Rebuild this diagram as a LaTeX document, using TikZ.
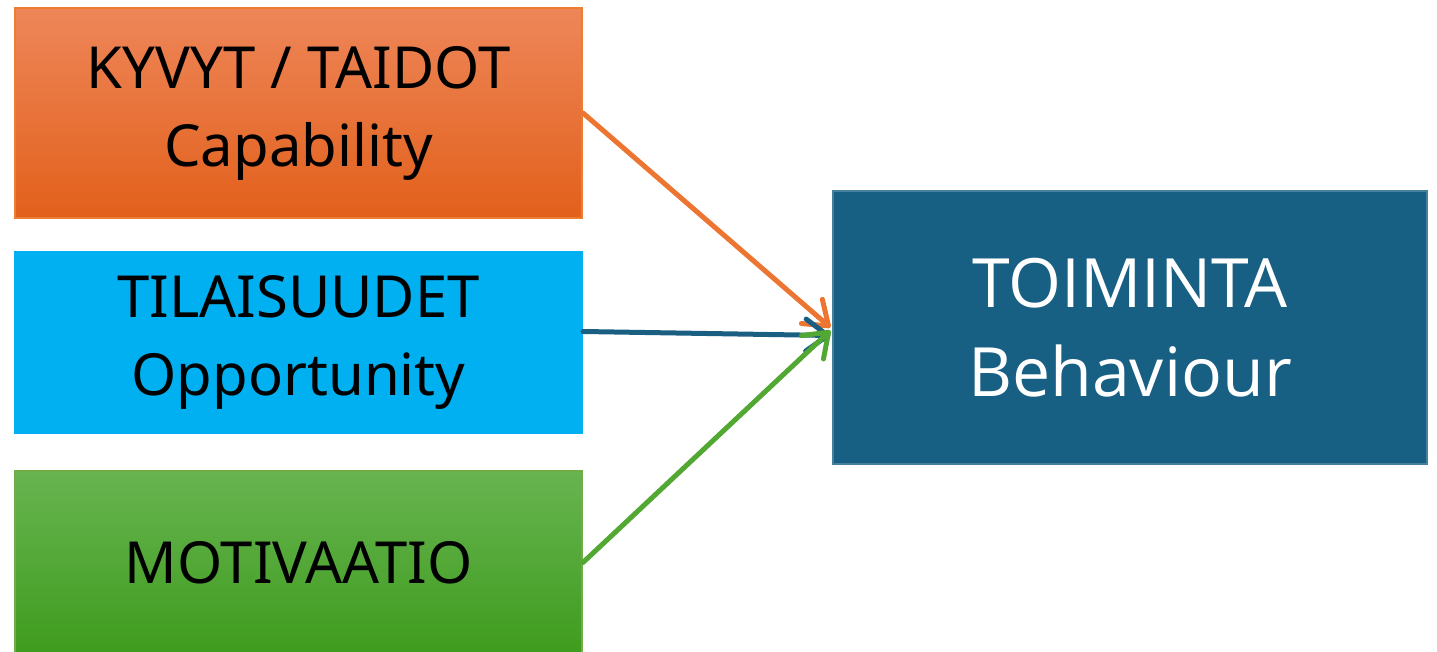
\documentclass[tikz,border=0pt]{standalone}
\usepackage{fontspec}
\setmainfont{Noto Sans}
\newfontfamily\boxfont{Open Sans}
\usetikzlibrary{arrows.meta,calc}
\definecolor{capTop}{HTML}{EE8659}
\definecolor{capBot}{HTML}{E2601B}
\definecolor{capEdge}{HTML}{ED7D31}
\definecolor{oppFill}{HTML}{00B0F0}
\definecolor{motTop}{HTML}{67B450}
\definecolor{motBot}{HTML}{3F9C1E}
\definecolor{motEdge}{HTML}{70AD47}
\definecolor{behFill}{HTML}{176083}
\definecolor{capArrow}{HTML}{EC7532}
\definecolor{oppArrow}{HTML}{1A5E82}
\definecolor{motArrow}{HTML}{52A832}
\tikzset{
  srcbox/.style={draw, line width=1pt, minimum width=283.5pt, minimum height=#1,
    inner sep=0pt, align=center, text=black,
    font=\fontsize{29}{39}\selectfont},
  link/.style={line width=2.5pt, line cap=round,
    -{Straight Barb[length=11pt,width=16pt,line width=2.5pt,round]}}
}
\begin{document}
\begin{tikzpicture}[x=0.5pt,y=-0.5pt]
  \useasboundingbox (0,0) rectangle (1437,652);
  % the three inputs
  \node[srcbox=105pt, top color=capTop, bottom color=capBot, draw=capEdge]
    (cap) at (298.5,113) {KYVYT / TAIDOT\\Capability};
  \node[srcbox=90.5pt, fill=oppFill, draw=oppFill]
    (opp) at (298.5,342.5) {TILAISUUDET\\Opportunity};
  \node[srcbox=91.5pt, top color=motTop, bottom color=motBot, draw=motEdge]
    (mot) at (298.5,562.5) {MOTIVAATIO};
  % the outcome
  \node[draw=behFill!80!white, line width=0.6pt, fill=behFill, minimum width=297pt,
    minimum height=136.5pt, inner sep=0pt, align=center, text=white,
    font=\boxfont\fontsize{34}{44.5}\selectfont]
    (beh) at (1130,327.5) {TOIMINTA\\Behaviour};
  % connectors
  \draw[link, capArrow] (cap.east) -- ($(beh.west)+(-2,0)$);
  \draw[link, oppArrow] ($(opp.east)+(0,-11)$) -- ($(beh.west)+(-2,8)$);
  \draw[link, motArrow] (mot.east) -- ($(beh.west)+(-2,3)$);
\end{tikzpicture}
\end{document}
